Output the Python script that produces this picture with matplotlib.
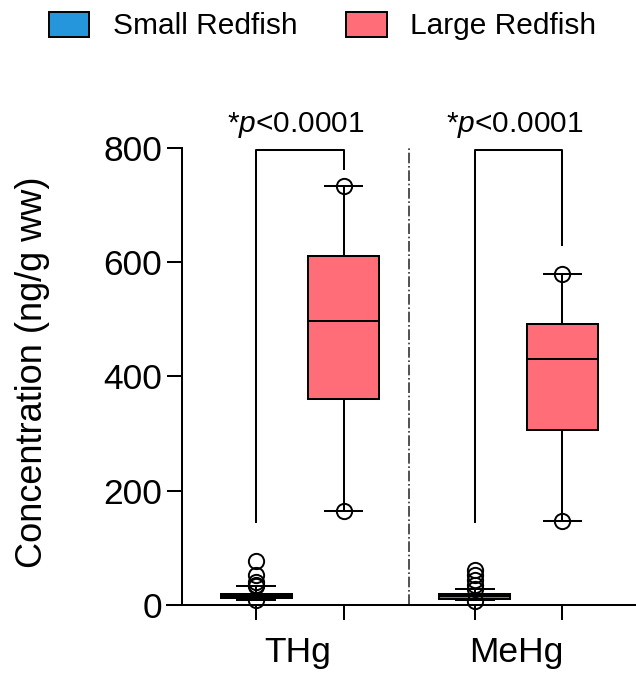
import matplotlib
matplotlib.use('Agg')
import matplotlib.pyplot as plt
from matplotlib.patches import Patch

plt.rcParams['font.family'] = ['Liberation Sans', 'DejaVu Sans']
plt.rcParams['mathtext.fontset'] = 'custom'
plt.rcParams['mathtext.rm'] = 'Liberation Sans'
plt.rcParams['mathtext.it'] = 'Liberation Sans:italic'

# box statistics (ng/g ww)
analytes = ['THg', 'MeHg']
groups = ['Small Redfish', 'Large Redfish']
colors = ['#2596DB', '#FF6D79']

whislo = [9, 165, 9, 147]
q1 = [12, 361, 11, 306]
med = [16, 497, 15, 431]
q3 = [20, 611, 19, 492]
whishi = [33, 734, 28, 580]
points = [
    [9, 33, 35, 40, 52, 77],
    [165, 734],
    [7, 28, 35, 44, 52, 61],
    [147, 580],
]
p_labels = ['*$p$<0.0001', '*$p$<0.0001']
bracket_left = [145, 145]
bracket_right = [763, 630]
bracket_top = 797

positions = [0, 1, 2.5, 3.5]
box_colors = [colors[0], colors[1], colors[0], colors[1]]

fig = plt.figure(figsize=(6.36, 6.8), dpi=100)
ax = fig.add_axes([0.2626, 0.1103, 0.7374, 0.6721])

stats = []
for i in range(len(positions)):
    stats.append({'whislo': whislo[i], 'q1': q1[i], 'med': med[i],
                  'q3': q3[i], 'whishi': whishi[i], 'fliers': []})

lw = 1.45
bp = ax.bxp(stats, positions=positions, widths=0.81, capwidths=0.43,
            patch_artist=True, showfliers=False,
            boxprops=dict(linewidth=lw, edgecolor='black'),
            medianprops=dict(color='black', linewidth=lw),
            whiskerprops=dict(color='black', linewidth=lw),
            capprops=dict(color='black', linewidth=lw))
for patch, c in zip(bp['boxes'], box_colors):
    patch.set_facecolor(c)
for line in bp['whiskers'] + bp['caps'] + bp['medians']:
    line.set_clip_on(False)

for pos, vals in zip(positions, points):
    ax.plot([pos] * len(vals), vals, 'o', mfc='none', mec='black',
            ms=11, mew=1.4, clip_on=False, zorder=4)

# significance brackets
for k in range(len(analytes)):
    x0 = positions[2 * k]
    x1 = positions[2 * k + 1]
    ax.plot([x0, x0, x1, x1],
            [bracket_left[k], bracket_top, bracket_top, bracket_right[k]],
            color='black', lw=lw, clip_on=False)
    ax.text((x0 + x1) / 2 - 0.05, 828, p_labels[k], ha='center',
            va='baseline', fontsize=21.5, clip_on=False)

ax.axvline(1.75, color='#333333', ls='-.', lw=1.2)

ax.set_xlim(-1.017, 4.34)
ax.set_ylim(0, 800)
ax.set_yticks([0, 200, 400, 600, 800])
ax.set_xticks(positions)
ax.set_xticklabels([])
ax.set_xticks([0.47, 2.97], minor=True)
ax.set_xticklabels(analytes, minor=True)

ax.spines['top'].set_visible(False)
ax.spines['right'].set_visible(False)
ax.spines['left'].set_position(('data', -0.846))
ax.spines['left'].set_linewidth(lw)
ax.spines['bottom'].set_linewidth(lw)

ax.tick_params(axis='both', which='major', length=10.8, width=lw,
               labelsize=25.5, pad=3.6)
ax.tick_params(axis='x', which='minor', length=0, labelsize=25.5, pad=22)

ax.set_ylabel('Concentration (ng/g ww)', fontsize=26)
ax.yaxis.set_label_coords(-0.249, 0.51)

handles = [Patch(facecolor=c, edgecolor='black', linewidth=1.4) for c in colors]
fig.legend(handles, groups, loc='center left', bbox_to_anchor=(0.0766, 1 - 26 / 680),
           ncol=2, frameon=False, fontsize=21.5, handlelength=1.36,
           handleheight=0.93, handletextpad=0.78, columnspacing=1.63,
           borderpad=0, borderaxespad=0)

plt.savefig('out.png', dpi=100)
plt.close()
